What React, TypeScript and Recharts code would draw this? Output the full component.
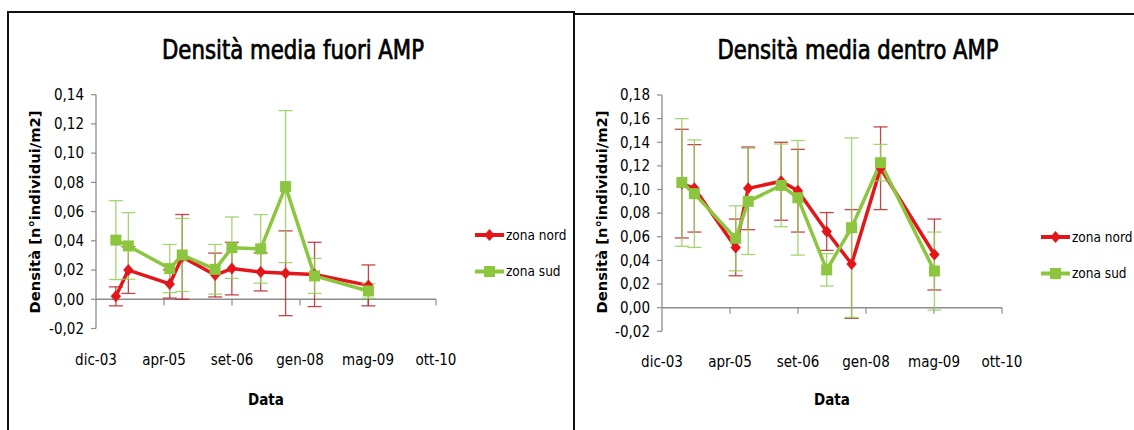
import React from 'react';
import { LineChart, Line, XAxis, YAxis, ErrorBar, ReferenceLine, Legend } from 'recharts';

const FONT = "'Liberation Sans Narrow', 'DejaVu Sans Condensed', 'Liberation Sans', sans-serif";

// Sampling campaigns (same dates for both areas)
const SAMPLE_DATES = [
  '2004-05-01', '2004-08-01', '2005-06-01', '2005-09-01', '2006-05-01',
  '2006-09-01', '2007-04-01', '2007-10-01', '2008-05-01', '2009-06-01',
];

// Date axis: one major unit every 500 days
const AXIS_DATES = ['2003-12-07', '2005-04-20', '2006-09-02', '2008-01-15', '2009-05-29', '2010-10-11'];
const AXIS_LABELS = ['dic-03', 'apr-05', 'set-06', 'gen-08', 'mag-09', 'ott-10'];

const SERIES_NAMES = ['zona nord', 'zona sud'];

// Densità media fuori AMP
const FUORI_NORD = [0.002, 0.02, 0.0105, 0.029, 0.0166, 0.021, 0.0187, 0.0178, 0.017, 0.0095];
const FUORI_NORD_ERR = [0.0065, 0.016, 0.0097, 0.029, 0.015, 0.018, 0.013, 0.029, 0.022, 0.014];
const FUORI_SUD = [0.0405, 0.0365, 0.021, 0.0303, 0.0205, 0.0353, 0.0345, 0.0771, 0.016, 0.0057];
const FUORI_SUD_ERR = [0.027, 0.0228, 0.0165, 0.025, 0.017, 0.021, 0.0235, 0.052, 0.012, 0.005];
const FUORI_Y_TICKS = [-0.02, 0, 0.02, 0.04, 0.06, 0.08, 0.1, 0.12, 0.14];

// Densità media dentro AMP
const DENTRO_NORD = [0.105, 0.101, 0.051, 0.101, 0.107, 0.099, 0.0645, 0.037, 0.118, 0.045];
const DENTRO_NORD_ERR = [0.046, 0.037, 0.024, 0.035, 0.033, 0.035, 0.016, 0.046, 0.035, 0.03];
const DENTRO_SUD = [0.106, 0.0965, 0.0587, 0.09, 0.1035, 0.093, 0.032, 0.0677, 0.1227, 0.031];
const DENTRO_SUD_ERR = [0.054, 0.0455, 0.0275, 0.045, 0.035, 0.0485, 0.0137, 0.076, 0.0155, 0.033];
const DENTRO_Y_TICKS = [-0.02, 0, 0.02, 0.04, 0.06, 0.08, 0.1, 0.12, 0.14, 0.16, 0.18];

const RED = '#e3161c';
const GREEN = '#8cc63e';
const RED_ERR = '#b9272b';
const GREEN_ERR = '#95cf5c';
const AXIS_GREY = '#8c8c8c';

const toTime = (s: string) => Date.parse(s + 'T00:00:00Z');
const AXIS_T = AXIS_DATES.map(toTime);

const buildRows = (nord: number[], nordErr: number[], sud: number[], sudErr: number[]) =>
  SAMPLE_DATES.map((d, i) => ({
    t: toTime(d),
    nord: nord[i],
    nordErr: nordErr[i],
    sud: sud[i],
    sudErr: sudErr[i],
  }));

const fmtY = (v: number) => v.toFixed(2).replace('.', ',');
const fmtX = (v: number) => {
  const i = AXIS_T.indexOf(v);
  return i >= 0 ? AXIS_LABELS[i] : '';
};

const diamondPath = (cx: number, cy: number) =>
  `M${cx},${cy - 6} L${cx + 5.2},${cy} L${cx},${cy + 6} L${cx - 5.2},${cy} Z`;

const renderDiamond = (p: any) => {
  const { cx, cy, index } = p;
  if (cx == null || cy == null) return <g key={`dn-${index}`} />;
  return <path key={`dn-${index}`} d={diamondPath(cx, cy)} fill={RED} />;
};

const renderSquare = (p: any) => {
  const { cx, cy, index } = p;
  if (cx == null || cy == null) return <g key={`ds-${index}`} />;
  return <rect key={`ds-${index}`} x={cx - 5.5} y={cy - 5.5} width={11} height={11} fill={GREEN} />;
};

// Legend entries: line + marker, then the series name
const LegendBox = (props: any) => {
  const items = props.payload || [];
  return (
    <svg width={90} height={60} style={{ display: 'block', overflow: 'visible' }}>
      {items.map((e: any, i: number) => {
        const cy = 8 + i * 36.5;
        return (
          <g key={e.value}>
            <line x1={0} y1={cy} x2={29} y2={cy} stroke={e.color} strokeWidth={4} />
            {e.dataKey === 'nord' ? (
              <path d={diamondPath(14.5, cy)} fill={RED} />
            ) : (
              <rect x={9} y={cy - 5.5} width={11} height={11} fill={GREEN} />
            )}
            <text x={31} y={cy + 4.5} fontFamily={FONT} fontSize={13.5} fill="#000">
              {e.value}
            </text>
          </g>
        );
      })}
    </svg>
  );
};

type PanelProps = {
  left: number;
  width: number;
  title: string;
  titleX: number;
  titleLen: number;
  yLabelX: number;
  dataX: number;
  rows: any[];
  yTicks: number[];
  margin: { top: number; right: number; bottom: number; left: number };
  tickMargin: number;
  tickLen: number;
  legendTop: number;
};

function Panel(p: PanelProps) {
  const yMin = p.yTicks[0];
  const yMax = p.yTicks[p.yTicks.length - 1];
  const tickFont = { fill: '#000', fontSize: 15, fontFamily: FONT };
  return (
    <div style={{ position: 'absolute', left: p.left, top: 0, width: p.width, height: 430 }}>
      <LineChart width={p.width} height={430} data={p.rows} margin={p.margin}>
        <XAxis
          type="number"
          dataKey="t"
          domain={[AXIS_T[0], AXIS_T[AXIS_T.length - 1]]}
          ticks={AXIS_T}
          interval={0}
          tickFormatter={fmtX}
          axisLine={false}
          tickLine={false}
          tickSize={0}
          tickMargin={p.tickMargin}
          height={40}
          tick={tickFont}
          allowDataOverflow
        />
        <YAxis
          type="number"
          domain={[yMin, yMax]}
          ticks={p.yTicks}
          interval={0}
          tickFormatter={fmtY}
          width={60}
          axisLine={{ stroke: AXIS_GREY, strokeWidth: 1.3 }}
          tickLine={{ stroke: AXIS_GREY, strokeWidth: 1.2 }}
          tickSize={5}
          tickMargin={7}
          tick={tickFont}
          allowDataOverflow
        />
        <ReferenceLine y={0} stroke={AXIS_GREY} strokeWidth={1.5} />
        {AXIS_T.slice(1).map((t) => (
          <ReferenceLine
            key={`xt-${t}`}
            segment={[{ x: t, y: 0 }, { x: t, y: -p.tickLen }]}
            stroke={AXIS_GREY}
            strokeWidth={1.2}
          />
        ))}
        <Line
          type="linear"
          dataKey="nord"
          name={SERIES_NAMES[0]}
          stroke={RED}
          strokeWidth={3.5}
          strokeLinejoin="round"
          dot={renderDiamond}
          activeDot={false}
          isAnimationActive={false}
        >
          <ErrorBar dataKey="nordErr" direction="y" width={7} stroke={RED_ERR} strokeWidth={1.3} strokeOpacity={0.85} />
        </Line>
        <Line
          type="linear"
          dataKey="sud"
          name={SERIES_NAMES[1]}
          stroke={GREEN}
          strokeWidth={3.5}
          strokeLinejoin="round"
          dot={renderSquare}
          activeDot={false}
          isAnimationActive={false}
        >
          <ErrorBar dataKey="sudErr" direction="y" width={7} stroke={GREEN_ERR} strokeWidth={1.3} strokeOpacity={0.85} />
        </Line>
        <Legend
          layout="vertical"
          align="center"
          verticalAlign="middle"
          content={<LegendBox />}
          wrapperStyle={{ left: 475, top: p.legendTop, width: 90 }}
        />
      </LineChart>
      <svg
        width={p.width}
        height={430}
        style={{ position: 'absolute', left: 0, top: 0, pointerEvents: 'none' }}
      >
        <text
          x={p.titleX}
          y={59}
          textAnchor="middle"
          fontFamily={FONT}
          fontSize={26}
          textLength={p.titleLen}
          lengthAdjust="spacingAndGlyphs"
          fill="#000"
          stroke="#000"
          strokeWidth={0.7}
        >
          {p.title}
        </text>
        <text
          transform={`translate(${p.yLabelX},212) rotate(-90)`}
          textAnchor="middle"
          fontFamily={FONT}
          fontSize={14}
          fontWeight="bold"
          textLength={203}
          lengthAdjust="spacingAndGlyphs"
          fill="#000"
        >
          Densità [n°individui/m2]
        </text>
        <text x={p.dataX} y={405} textAnchor="middle" fontFamily={FONT} fontSize={15} fontWeight="bold" fill="#000">
          Data
        </text>
      </svg>
    </div>
  );
}

export default function App() {
  const fuori = buildRows(FUORI_NORD, FUORI_NORD_ERR, FUORI_SUD, FUORI_SUD_ERR);
  const dentro = buildRows(DENTRO_NORD, DENTRO_NORD_ERR, DENTRO_SUD, DENTRO_SUD_ERR);
  return (
    <div
      style={{
        position: 'fixed',
        left: 0,
        top: 0,
        width: 1134,
        height: 430,
        overflow: 'hidden',
        background: '#fff',
      }}
    >
      <div
        style={{
          position: 'absolute',
          left: 7,
          top: 11,
          width: 568,
          height: 500,
          borderTop: '2px solid #111',
          borderLeft: '2px solid #111',
          boxSizing: 'border-box',
        }}
      />
      <div
        style={{
          position: 'absolute',
          left: 573,
          top: 13,
          width: 600,
          height: 500,
          border: '2px solid #111',
          boxSizing: 'border-box',
        }}
      />
      <Panel
        left={0}
        width={570}
        title="Densità media fuori AMP"
        titleX={293}
        titleLen={262}
        yLabelX={40}
        dataX={266}
        rows={fuori}
        yTicks={FUORI_Y_TICKS}
        margin={{ top: 94.7, right: 134, bottom: 61.5, left: 36 }}
        tickMargin={26}
        tickLen={0.0042}
        legendTop={227}
      />
      <Panel
        left={566}
        width={568}
        title="Densità media dentro AMP"
        titleX={292}
        titleLen={281}
        yLabelX={41}
        dataX={266}
        rows={dentro}
        yTicks={DENTRO_Y_TICKS}
        margin={{ top: 95, right: 132, bottom: 58.7, left: 36 }}
        tickMargin={25}
        tickLen={0.0051}
        legendTop={228.7}
      />
    </div>
  );
}
